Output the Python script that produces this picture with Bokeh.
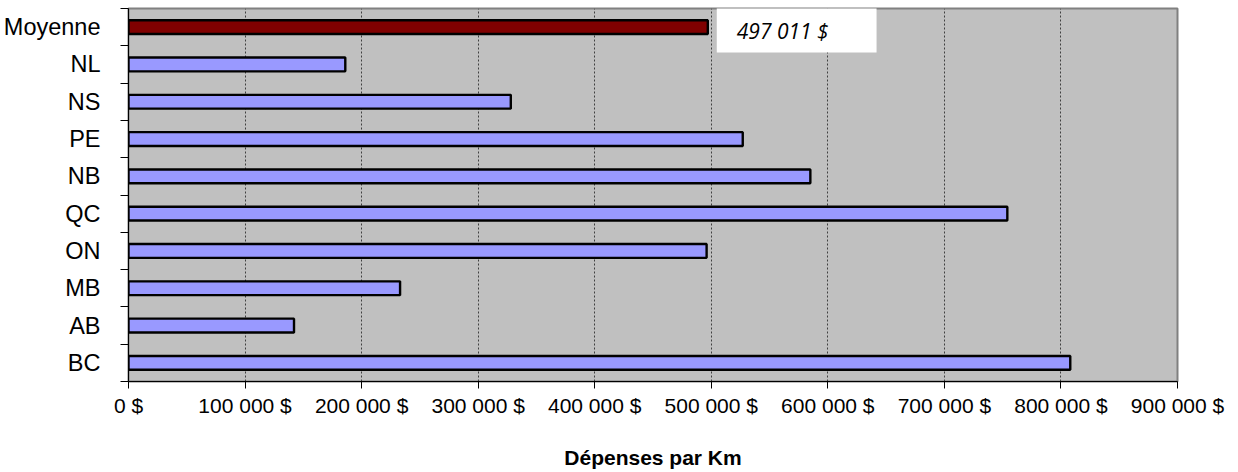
from bokeh.plotting import figure
from bokeh.models import FixedTicker, BoxAnnotation, Label, Range1d, ColumnDataSource
from bokeh.embed import file_html
from bokeh.resources import INLINE

# Data (bottom to top)
categories = ["BC", "AB", "MB", "ON", "QC", "NB", "PE", "NS", "NL", "Moyenne"]
values = [808000, 142000, 233000, 496000, 754000, 585000, 527000, 328000, 186000, 497011]
x_ticks = [0, 100000, 200000, 300000, 400000, 500000, 600000, 700000, 800000, 900000]
x_tick_labels = ["0 $", "100 000 $", "200 000 $", "300 000 $", "400 000 $",
                 "500 000 $", "600 000 $", "700 000 $", "800 000 $", "900 000 $"]
axis_title = "Dépenses par Km"

BAR_COLOR = "#9999FF"
AVG_COLOR = "#800000"

y_pos = [i + 0.5 for i in range(len(categories))]
colors = [AVG_COLOR if c == "Moyenne" else BAR_COLOR for c in categories]
src = ColumnDataSource(dict(y=y_pos, value=values, color=colors, cat=categories))

p = figure(frame_width=1049, frame_height=373,
           x_range=Range1d(0, 900000), y_range=Range1d(0, len(categories)),
           output_backend="svg", toolbar_location=None,
           min_border_left=120, min_border_right=53, min_border_top=8, min_border_bottom=82)
p.background_fill_color = "#C0C0C0"
p.border_fill_color = "white"
p.outline_line_color = "#808080"
p.outline_line_width = 2

p.hbar(y="y", right="value", left=0, height=0.37, fill_color="color",
       line_color="black", line_width=2.4, source=src)

# x axis
p.xaxis.ticker = FixedTicker(ticks=x_ticks, minor_ticks=[])
p.xaxis.major_label_overrides = {t: l for t, l in zip(x_ticks, x_tick_labels)}
p.xaxis.major_tick_out = 7
p.xaxis.major_tick_in = 0
p.xaxis.minor_tick_line_color = None
p.xaxis.major_label_standoff = 5
p.xaxis.major_label_text_font = "Liberation Sans"
p.xaxis.major_label_text_font_size = "21px"
p.xaxis.major_label_text_color = "black"
p.xaxis.axis_line_color = "black"
p.xaxis.major_tick_line_color = "black"
p.xaxis.axis_label = axis_title
p.xaxis.axis_label_text_font = "Liberation Sans"
p.xaxis.axis_label_text_font_style = "bold"
p.xaxis.axis_label_text_font_size = "21px"
p.xaxis.axis_label_text_color = "black"
p.xaxis.axis_label_standoff = 26

# y axis
p.yaxis.ticker = FixedTicker(ticks=y_pos, minor_ticks=list(range(len(categories) + 1)))
p.yaxis.major_label_overrides = {y: c for y, c in zip(y_pos, categories)}
p.yaxis.major_tick_out = 0
p.yaxis.major_tick_in = 0
p.yaxis.minor_tick_out = 8
p.yaxis.minor_tick_in = 0
p.yaxis.minor_tick_line_color = "black"
p.yaxis.major_label_standoff = 20
p.yaxis.major_label_text_font = "Liberation Sans"
p.yaxis.major_label_text_font_size = "23.5px"
p.yaxis.major_label_text_color = "black"
p.yaxis.axis_line_color = "black"

# grid
p.xgrid.grid_line_color = "#404040"
p.xgrid.grid_line_dash = "2 2"
p.xgrid.grid_line_width = 1
p.ygrid.grid_line_color = None

# annotation box with average value
avg_value = values[categories.index("Moyenne")]
avg_text = "{:,}".format(avg_value).replace(",", " ") + " $"
box = BoxAnnotation(left=504700, right=641800, top=10.05, bottom=8.82,
                    fill_color="white", fill_alpha=1.0, line_color=None)
p.add_layout(box)
lbl = Label(x=521900, y=9.39, text=avg_text, text_font="Open Sans",
            text_font_style="italic", text_font_size="21px", text_color="black",
            text_baseline="alphabetic", text_align="left")
p.add_layout(lbl)

open("out.html", "w").write(file_html(p, INLINE))
